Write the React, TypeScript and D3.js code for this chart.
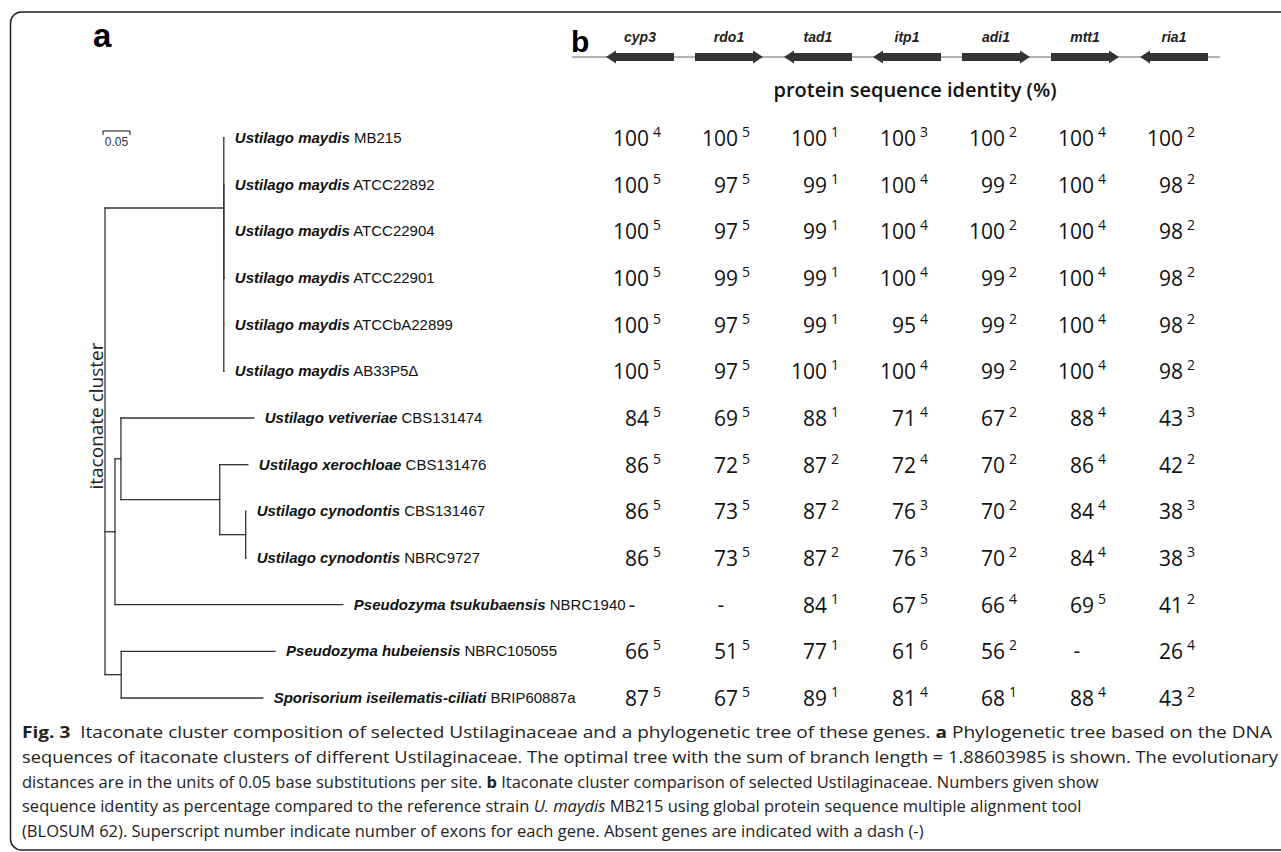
import React from 'react';
import * as d3 from 'd3';

const W = 1281;
const H = 852;

// gene cluster header
const genes = ['cyp3', 'rdo1', 'tad1', 'itp1', 'adi1', 'mtt1', 'ria1'];
const strand = ['-', '+', '-', '-', '+', '+', '-'];

// strains (rows)
const species = [
  'Ustilago maydis', 'Ustilago maydis', 'Ustilago maydis', 'Ustilago maydis',
  'Ustilago maydis', 'Ustilago maydis', 'Ustilago vetiveriae', 'Ustilago xerochloae',
  'Ustilago cynodontis', 'Ustilago cynodontis', 'Pseudozyma tsukubaensis',
  'Pseudozyma hubeiensis', 'Sporisorium iseilematis-ciliati',
];
const strains = [
  'MB215', 'ATCC22892', 'ATCC22904', 'ATCC22901', 'ATCCbA22899', 'AB33P5Δ',
  'CBS131474', 'CBS131476', 'CBS131467', 'NBRC9727', 'NBRC1940', 'NBRC105055', 'BRIP60887a',
];

// protein sequence identity (%), null = absent gene
const identity = [
  [100, 100, 100, 100, 100, 100, 100],
  [100, 97, 99, 100, 99, 100, 98],
  [100, 97, 99, 100, 100, 100, 98],
  [100, 99, 99, 100, 99, 100, 98],
  [100, 97, 99, 95, 99, 100, 98],
  [100, 97, 100, 100, 99, 100, 98],
  [84, 69, 88, 71, 67, 88, 43],
  [86, 72, 87, 72, 70, 86, 42],
  [86, 73, 87, 76, 70, 84, 38],
  [86, 73, 87, 76, 70, 84, 38],
  [null, null, 84, 67, 66, 69, 41],
  [66, 51, 77, 61, 56, null, 26],
  [87, 67, 89, 81, 68, 88, 43],
];
// number of exons (superscripts)
const exons = [
  [4, 5, 1, 3, 2, 4, 2],
  [5, 5, 1, 4, 2, 4, 2],
  [5, 5, 1, 4, 2, 4, 2],
  [5, 5, 1, 4, 2, 4, 2],
  [5, 5, 1, 4, 2, 4, 2],
  [5, 5, 1, 4, 2, 4, 2],
  [5, 5, 1, 4, 2, 4, 3],
  [5, 5, 2, 4, 2, 4, 2],
  [5, 5, 2, 3, 2, 4, 3],
  [5, 5, 2, 3, 2, 4, 3],
  [null, null, 1, 5, 4, 5, 2],
  [5, 5, 1, 6, 2, null, 4],
  [5, 5, 1, 4, 1, 4, 2],
];

// phylogenetic tree, branch lengths in substitutions per site
const tree = {
  len: 0,
  children: [
    { len: 0.22, children: [
      { leaf: 0, len: 0 },
      { len: 0, children: [{ leaf: 1, len: 0 }, { leaf: 2, len: 0 }, { leaf: 3, len: 0 }, { leaf: 4, len: 0 }, { leaf: 5, len: 0 }] },
    ] },
    { len: 0.0185, children: [
      { len: 0.011, children: [
        { leaf: 6, len: 0.246 },
        { len: 0.183, children: [
          { leaf: 7, len: 0.052 },
          { len: 0.048, children: [{ leaf: 8, len: 0 }, { leaf: 9, len: 0 }] },
        ] },
      ] },
      { leaf: 10, len: 0.422 },
    ] },
    { len: 0.03, children: [{ leaf: 11, len: 0.285 }, { leaf: 12, len: 0.262 }] },
  ],
};

const scaleBarValue = 0.05;

const captionLines = [
  [['Fig. 3', 'b'], ['  Itaconate cluster composition of selected Ustilaginaceae and a phylogenetic tree of these genes. ', ''], ['a', 'b'], [' Phylogenetic tree based on the DNA', '']],
  [['sequences of itaconate clusters of different Ustilaginaceae. The optimal tree with the sum of branch length = 1.88603985 is shown. The evolutionary', '']],
  [['distances are in the units of 0.05 base substitutions per site. ', ''], ['b', 'b'], [' Itaconate cluster comparison of selected Ustilaginaceae. Numbers given show', '']],
  [['sequence identity as percentage compared to the reference strain ', ''], ['U. maydis', 'i'], [' MB215 using global protein sequence multiple alignment tool', '']],
  [['(BLOSUM 62). Superscript number indicate number of exons for each gene. Absent genes are indicated with a dash (-)', '']],
];

const ARIAL = '"Liberation Sans", Arial, sans-serif';
const OPEN = '"Open Sans", "Noto Sans", sans-serif';

const App = () => {
  const xTree = d3.scaleLinear().domain([0, 1]).range([105, 645]);
  const yRow = d3.scaleLinear().domain([0, strains.length - 1]).range([138, 698]);
  const xCol = d3.scalePoint().domain(genes).range([640, 1174]);

  const root: any = d3.hierarchy(tree);
  root.eachBefore((n: any) => { n.dist = (n.parent ? n.parent.dist : 0) + n.data.len; });
  root.eachAfter((n: any) => {
    n.yy = n.children
      ? (n.children[0].yy + n.children[n.children.length - 1].yy) / 2
      : yRow(n.data.leaf);
  });

  const hLinks = root.descendants().filter((n: any) => n.parent);
  const vLinks = root.descendants().filter((n: any) => n.children);

  const arrowLine = d3.line();
  const arrowPath = (c: number, dir: string, y: number) => {
    const w = 68, hl = 10, bh = 4, hh = 6.5;
    const x0 = c - w / 2, x1 = c + w / 2;
    const pts: [number, number][] = dir === '-'
      ? [[x0, y], [x0 + hl, y - hh], [x0 + hl, y - bh], [x1, y - bh], [x1, y + bh], [x0 + hl, y + bh], [x0 + hl, y + hh]]
      : [[x1, y], [x1 - hl, y - hh], [x1 - hl, y - bh], [x0, y - bh], [x0, y + bh], [x1 - hl, y + bh], [x1 - hl, y + hh]];
    return arrowLine(pts) + 'Z';
  };

  const backY = 57;
  const firstX = xCol(genes[0]) as number;
  const lastX = xCol(genes[genes.length - 1]) as number;

  return (
    <svg width={W} height={H} style={{ position: 'absolute', left: 0, top: 0, background: '#fff' }}>
      {/* frame */}
      <rect x={10.5} y={12} width={1300} height={838} rx={11} fill="none" stroke="#222" strokeWidth={1.5} />

      <text x={93} y={47} fontFamily={ARIAL} fontWeight="bold" fontSize={33}>a</text>
      <text x={571} y={52} fontFamily={ARIAL} fontWeight="bold" fontSize={30}>b</text>

      {/* scale bar */}
      <g stroke="#333" strokeWidth={1.2}>
        <line x1={xTree(0) - 2} x2={xTree(scaleBarValue) - 2} y1={131} y2={131} />
        <line x1={xTree(0) - 2} x2={xTree(0) - 2} y1={131} y2={135} />
        <line x1={xTree(scaleBarValue) - 2} x2={xTree(scaleBarValue) - 2} y1={131} y2={135} />
      </g>
      <text x={(xTree(0) + xTree(scaleBarValue)) / 2 - 2} y={146} textAnchor="middle" fontFamily={ARIAL} fontSize={12} fill="#333">{scaleBarValue}</text>

      {/* tree */}
      <g stroke="#333" strokeWidth={1.3} strokeLinecap="square">
        {hLinks.map((n: any, i: number) => (
          <line key={'h' + i} x1={xTree(n.parent.dist)} x2={xTree(n.dist)} y1={n.yy} y2={n.yy} />
        ))}
        {vLinks.map((n: any, i: number) => (
          <line key={'v' + i} x1={xTree(n.dist)} x2={xTree(n.dist)} y1={n.children[0].yy} y2={n.children[n.children.length - 1].yy} />
        ))}
      </g>
      <text transform={`translate(103,416) rotate(-90)`} textAnchor="middle" fontFamily={OPEN} fontSize={19} fill="#222">itaconate cluster</text>

      {/* leaf labels */}
      {root.leaves().map((n: any) => (
        <text key={'l' + n.data.leaf} x={xTree(n.dist) + 11} y={n.yy + 5} fontFamily={ARIAL} fontSize={15} fill="#111">
          <tspan fontWeight="bold" fontStyle="italic">{species[n.data.leaf]}</tspan>
          <tspan> {strains[n.data.leaf]}</tspan>
        </text>
      ))}

      {/* gene cluster */}
      <line x1={firstX - 68} x2={lastX + 46} y1={backY} y2={backY} stroke="#999" strokeWidth={1.6} />
      {genes.map((g, i) => (
        <g key={g}>
          <path d={arrowPath(xCol(g) as number, strand[i], backY)} fill="#333" />
          <text x={xCol(g)} y={42} textAnchor="middle" fontFamily={ARIAL} fontWeight="bold" fontStyle="italic" fontSize={14} fill="#222">{g}</text>
        </g>
      ))}
      <text x={915} y={97} textAnchor="middle" fontFamily={OPEN} fontWeight={600} fontSize={20} fill="#111">protein sequence identity (%)</text>

      {/* identity table */}
      {identity.map((row, r) => row.map((v, c) => {
        const cx = xCol(genes[c]) as number;
        const y = yRow(r) + 8;
        if (v === null) {
          return <text key={r + '-' + c} x={cx - 8} y={y - 1} textAnchor="middle" fontFamily={OPEN} fontSize={21} fill="#222">-</text>;
        }
        return (
          <g key={r + '-' + c} fontFamily={OPEN} fill="#111">
            <text x={cx + 9} y={y} textAnchor="end" fontSize={21}>{v}</text>
            <text x={cx + 13} y={y - 9} fontSize={14}>{exons[r][c]}</text>
          </g>
        );
      }))}

      {/* caption */}
      {captionLines.map((line, i) => (
        <text key={'c' + i} x={22} y={738 + i * 24.75} fontFamily={OPEN} fontSize={16.5} fill="#222"
          xmlSpace="preserve"
          textLength={i === 0 ? 1250 : i === 1 ? 1256 : undefined}
          lengthAdjust="spacingAndGlyphs">
          {line.map(([t, s], j) => (
            <tspan key={j} fontWeight={s === 'b' ? 'bold' : undefined} fontStyle={s === 'i' ? 'italic' : undefined}>{t}</tspan>
          ))}
        </text>
      ))}
    </svg>
  );
};

export default App;
